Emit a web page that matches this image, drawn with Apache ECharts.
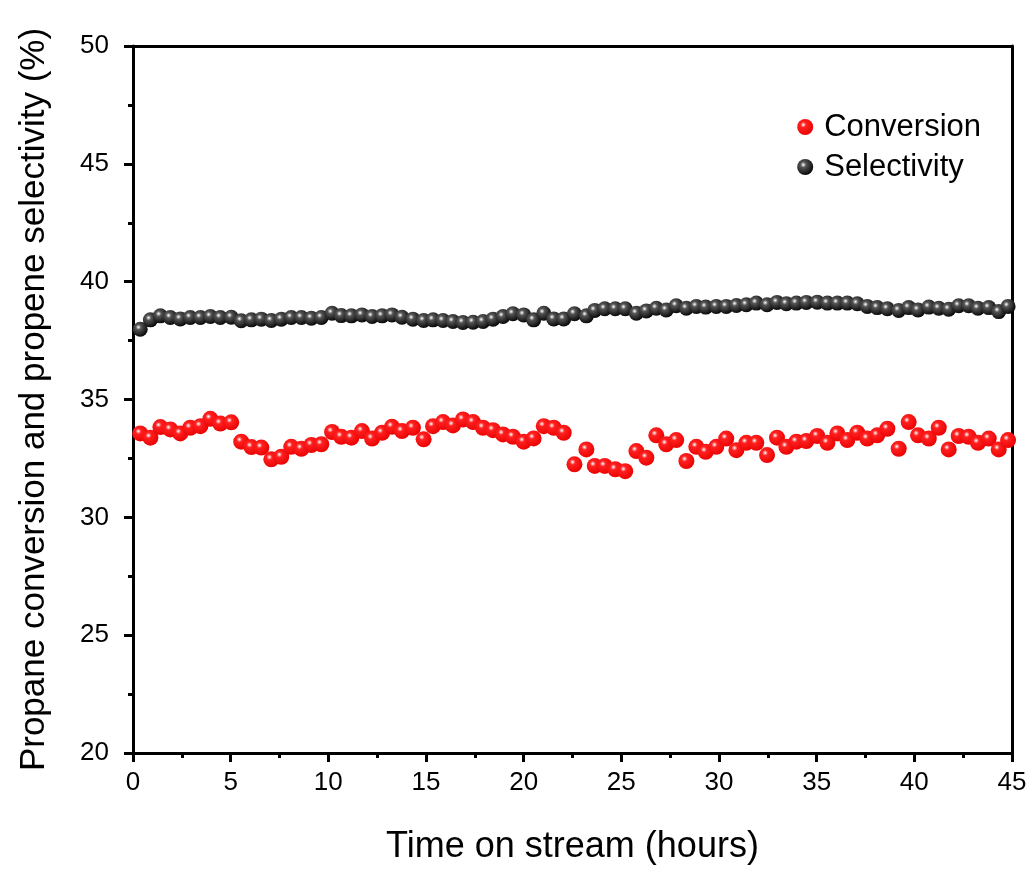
<!DOCTYPE html>
<html>
<head>
<meta charset="utf-8">
<script src="https://cdn.jsdelivr.net/npm/echarts@6/dist/echarts.min.js"></script>
<style>html,body{margin:0;padding:0;background:#fff;}#c{width:1032px;height:870px;}</style>
</head>
<body>
<div id="c"></div>
<script>
const timeHours = [0.37,0.89,1.40,1.91,2.42,2.93,3.45,3.96,4.47,5.03,5.54,6.06,6.57,7.08,7.59,8.10,8.62,9.13,9.64,10.19,10.66,11.18,
11.72,12.24,12.75,13.26,13.77,14.33,14.88,15.36,15.87,16.38,16.89,17.41,17.92,18.43,18.94,19.45,20.00,20.51,21.03,21.54,22.05,
22.60,23.21,23.64,24.15,24.69,25.20,25.77,26.28,26.79,27.30,27.81,28.33,28.84,29.32,29.86,30.37,30.89,31.40,31.91,32.46,32.97,33.45,
33.96,34.47,35.03,35.55,36.06,36.57,37.08,37.59,38.10,38.62,39.20,39.71,40.19,40.74,41.25,41.76,42.27,42.78,43.26,43.81,44.32,44.80];

const conversion = [33.56,33.38,33.83,33.73,33.56,33.80,33.87,34.18,33.98,34.03,33.21,32.98,32.96,32.46,32.57,32.99,32.91,33.07,33.10,33.62,33.42,33.38,
33.66,33.34,33.59,33.84,33.66,33.80,33.31,33.87,34.04,33.90,34.15,34.04,33.80,33.70,33.52,33.42,33.21,33.35,33.87,33.80,33.59,
32.25,32.88,32.18,32.18,32.04,31.96,32.81,32.53,33.48,33.10,33.28,32.39,32.99,32.78,32.99,33.34,32.85,33.16,33.16,32.64,33.38,32.99,
33.21,33.24,33.45,33.16,33.56,33.28,33.59,33.34,33.48,33.76,32.91,34.04,33.48,33.34,33.80,32.88,33.45,33.42,33.16,33.34,32.88,33.28];

const selectivity = [37.98,38.38,38.55,38.48,38.42,38.48,38.48,38.52,38.48,38.49,38.34,38.38,38.41,38.35,38.41,38.48,38.48,38.45,38.48,38.66,38.56,38.55,
38.59,38.52,38.55,38.59,38.49,38.41,38.35,38.38,38.35,38.31,38.27,38.28,38.31,38.41,38.52,38.64,38.59,38.38,38.66,38.42,38.42,
38.64,38.55,38.78,38.85,38.85,38.85,38.66,38.76,38.87,38.80,38.98,38.87,38.95,38.92,38.95,38.95,38.99,39.02,39.09,39.02,39.12,39.06,
39.09,39.12,39.13,39.09,39.09,39.09,39.06,38.95,38.90,38.85,38.78,38.90,38.80,38.92,38.87,38.83,38.98,38.98,38.87,38.90,38.73,38.95];

const seriesNames = ['Conversion', 'Selectivity'];
const xTitle = 'Time on stream (hours)';
const yTitle = 'Propane conversion and propene selectivity (%)';

function pairs(xs, ys) { return xs.map((x, i) => [x, ys[i]]); }

function sphere(base, dark) {
  return {
    type: 'radial', x: 0.38, y: 0.36, r: 0.7,
    colorStops: [
      { offset: 0, color: '#ffffff' },
      { offset: 0.25, color: base },
      { offset: 1, color: dark }
    ]
  };
}

const FONT = 'Liberation Sans, Arial, sans-serif';
const axisLineStyle = { color: '#000', width: 3 };

const chart = echarts.init(document.getElementById('c'), null, { renderer: 'canvas' });
chart.setOption({
  animation: false,
  backgroundColor: '#fff',
  grid: { left: 133, right: 20, top: 46, bottom: 116, containLabel: false },
  legend: {
    right: 46, top: 106, orient: 'vertical', itemGap: 8,
    itemWidth: 16, itemHeight: 16,
    textStyle: { fontFamily: FONT, fontSize: 31, lineHeight: 32, color: '#000', padding: [0, 0, 0, 6] },
    data: [
      { name: seriesNames[0], icon: 'circle' },
      { name: seriesNames[1], icon: 'circle' }
    ]
  },
  xAxis: [{
    type: 'value', min: 0, max: 45, interval: 5,
    name: xTitle, nameLocation: 'middle', nameGap: 76,
    nameTextStyle: { fontFamily: FONT, fontSize: 36, color: '#000' },
    axisLine: { lineStyle: axisLineStyle },
    axisTick: { inside: false, length: 9, lineStyle: { width: 3, color: '#000' } },
    minorTick: { show: true, splitNumber: 2, length: 5, lineStyle: { width: 3, color: '#000' } },
    splitLine: { show: false },
    axisLabel: { fontFamily: FONT, fontSize: 26, color: '#000', margin: 17 }
  }, {
    type: 'value', min: 0, max: 45, position: 'top',
    axisLine: { show: true, onZero: false, lineStyle: axisLineStyle },
    axisTick: { show: false }, axisLabel: { show: false }, splitLine: { show: false }
  }],
  yAxis: [{
    type: 'value', min: 20, max: 50, interval: 5,
    name: yTitle, nameLocation: 'middle', nameGap: 81,
    nameTextStyle: { fontFamily: FONT, fontSize: 35, color: '#000' },
    axisLine: { show: true, lineStyle: axisLineStyle },
    axisTick: { show: true, inside: false, length: 9, lineStyle: { width: 3, color: '#000' } },
    minorTick: { show: true, splitNumber: 2, length: 5, lineStyle: { width: 3, color: '#000' } },
    splitLine: { show: false },
    axisLabel: { fontFamily: FONT, fontSize: 26, color: '#000', margin: 24 }
  }, {
    type: 'value', min: 20, max: 50, position: 'right',
    axisLine: { show: true, onZero: false, lineStyle: axisLineStyle },
    axisTick: { show: false }, axisLabel: { show: false }, splitLine: { show: false }
  }],
  series: [{
    name: seriesNames[0], type: 'scatter', symbol: 'circle', symbolSize: 16,
    itemStyle: { color: sphere('#ff2020', '#e80000'), opacity: 1 },
    data: pairs(timeHours, conversion), z: 3
  }, {
    name: seriesNames[1], type: 'scatter', symbol: 'circle', symbolSize: 15,
    itemStyle: { color: sphere('#555555', '#000000'), opacity: 1 },
    data: pairs(timeHours, selectivity), z: 3
  }]
});
</script>
</body>
</html>
